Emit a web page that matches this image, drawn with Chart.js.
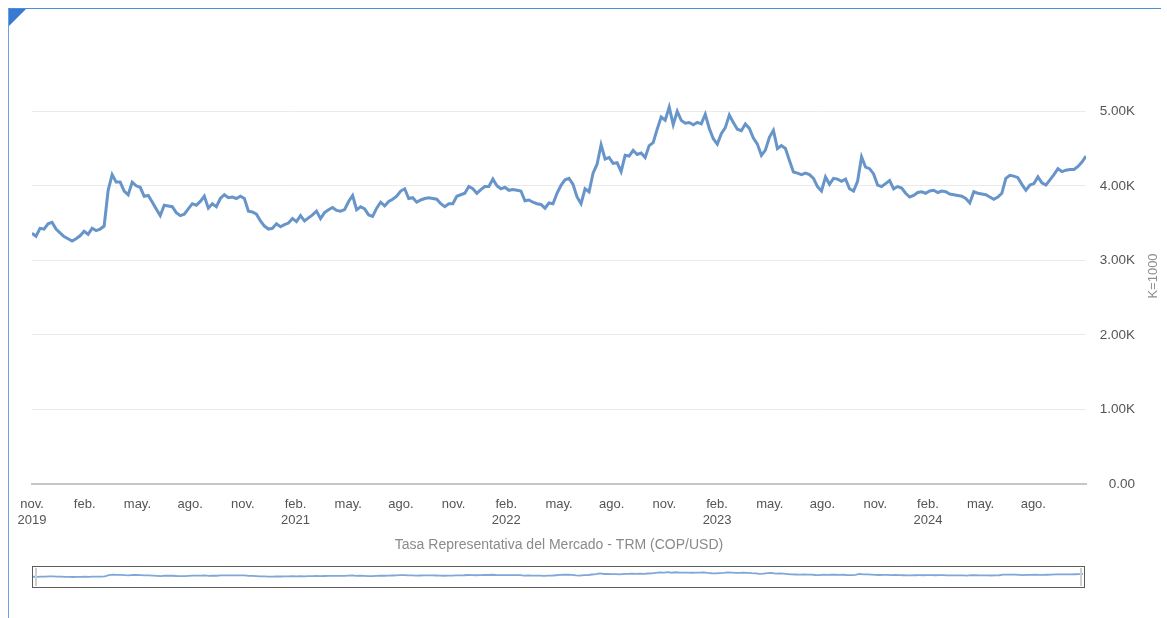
<!DOCTYPE html>
<html>
<head>
<meta charset="utf-8">
<script src="https://cdn.jsdelivr.net/npm/chart.js@4.4.1/dist/chart.umd.min.js"></script>
<style>
html,body{margin:0;padding:0;background:#fff;width:1167px;height:618px;overflow:hidden;font-family:"Liberation Sans",Arial,sans-serif;}
#frame{position:absolute;left:8px;top:8px;width:1153px;height:620px;border-top:1.5px solid #4a8fdc;border-left:1.5px solid #6aa3e3;box-sizing:border-box;}
#corner{position:absolute;left:9px;top:9px;width:0;height:0;border-top:17px solid #3b78d4;border-right:17px solid transparent;}
#main{position:absolute;left:0;top:0;}
#nav{position:absolute;left:32px;top:566px;width:1053px;height:22px;border:1.5px solid #5c5c5c;box-sizing:border-box;}
#navCanvas{position:absolute;left:0;top:0;}
.handle{position:absolute;top:1px;width:2px;height:18px;background:#cfcfcf;}
</style>
</head>
<body>
<div id="frame"></div>
<div id="corner"></div>
<canvas id="main" width="1167" height="618"></canvas>
<div id="nav">
  <canvas id="navCanvas" width="1050" height="19"></canvas>
  <div class="handle" style="left:2px"></div>
  <div class="handle" style="right:2px"></div>
</div>
<script>
// ---- Data: TRM (COP per USD), roughly weekly samples, Nov 2019 - Nov 2024 ----
const trm2019 = [3363,3323,3430,3420,3490,3510,3420,3370,3320];
const trm2020 = [3290,3260,3290,3330,3390,3350,3430,3400,3420,3460,3940,4150,4050,4051,3930,3880,4050,4000,3980,3860,3870,3783,3690,3600,3740,3730,3720,3640,3600,3620,3690,3760,3740,3790,3860,3700,3760,3720,3830,3880,3840,3850,3830,3860,3830,3660,3650,3620,3530,3460,3420,3430,3490];
const trm2021 = [3450,3480,3500,3560,3520,3600,3530,3570,3610,3660,3560,3640,3680,3710,3670,3660,3680,3790,3870,3680,3720,3690,3610,3590,3700,3780,3730,3790,3820,3860,3930,3960,3830,3840,3780,3810,3830,3840,3830,3820,3760,3720,3760,3760,3860,3880,3900,3990,3960,3900,3950,3990];
const trm2022 = [3990,4090,4000,3960,3980,3940,3950,3940,3930,3800,3810,3780,3760,3750,3700,3770,3760,3900,4007,4080,4100,4020,3850,3761,3960,3920,4170,4290,4550,4360,4380,4300,4310,4190,4409,4400,4476,4420,4440,4380,4540,4580,4760,4922,4880,5056,4820,5000,4878,4840,4850,4820,4850];
const trm2023 = [4830,4960,4770,4632,4560,4700,4780,4950,4850,4760,4740,4830,4770,4640,4560,4409,4480,4650,4744,4500,4540,4500,4340,4186,4170,4150,4170,4150,4100,3990,3930,4118,4020,4100,4090,4060,4090,3960,3930,4060,4387,4250,4230,4160,4010,3990,4030,4070,3960,3990,3970,3900,3850];
const trm2024 = [3870,3910,3920,3900,3930,3940,3910,3930,3920,3890,3880,3870,3860,3830,3770,3920,3900,3890,3880,3850,3820,3850,3900,4100,4141,4130,4110,4020,3940,4010,4030,4120,4040,4010,4080,4150,4230,4190,4210,4220,4220,4260,4320,4400];

// months since Nov 2019 covered by the series
const startMonth = 0;
const endMonth = 60;

// x tick labels, one every 3 months starting Nov 2019
const xTickLabels = [
  ['nov.','2019'],'feb.','may.','ago.','nov.',
  ['feb.','2021'],'may.','ago.','nov.',
  ['feb.','2022'],'may.','ago.','nov.',
  ['feb.','2023'],'may.','ago.','nov.',
  ['feb.','2024'],'may.','ago.'
];
const yTickValues = [0,1000,2000,3000,4000,5000];
const xTitle = 'Tasa Representativa del Mercado - TRM (COP/USD)';
const yTitle = 'K=1000';

const allValues = [].concat(trm2019, trm2020, trm2021, trm2022, trm2023, trm2024);
const stepM = (endMonth - startMonth) / (allValues.length - 1);
const points = allValues.map((v, i) => ({x: startMonth + i * stepM, y: v}));

const FAM = '"Liberation Sans", Arial, sans-serif';
const LINE = '#6795c9';

const yTitlePlugin = {
  id: 'yTitle',
  afterDraw(chart) {
    const {ctx, chartArea} = chart;
    ctx.save();
    ctx.translate(1153, (chartArea.top + chartArea.bottom) / 2 - 3);
    ctx.rotate(-Math.PI / 2);
    ctx.font = '13px ' + FAM;
    ctx.fillStyle = '#8f8f8f';
    ctx.textAlign = 'center';
    ctx.textBaseline = 'middle';
    ctx.fillText(yTitle, 0, 0);
    ctx.restore();
  }
};

new Chart(document.getElementById('main'), {
  type: 'line',
  data: {datasets: [{data: points, borderColor: LINE, borderWidth: 3, pointRadius: 0, tension: 0, fill: false}]},
  options: {
    responsive: false,
    animation: false,
    layout: {padding: {left: 32, right: 32, top: 74, bottom: 58}},
    plugins: {legend: {display: false}, tooltip: {enabled: false}},
    scales: {
      x: {
        type: 'linear', min: startMonth, max: endMonth,
        grid: {display: false, drawTicks: false},
        border: {display: true, color: '#c6c6c6', width: 2},
        afterBuildTicks: s => { s.ticks = xTickLabels.map((l, i) => ({value: i * 3})); },
        afterFit: s => { s.height = 76; },
        ticks: {
          autoSkip: false, maxRotation: 0, minRotation: 0, padding: 11.5,
          color: '#555', font: {size: 13, family: FAM, lineHeight: 1.3},
          callback: (v, i) => xTickLabels[i]
        },
        title: {display: true, text: xTitle, color: '#8a8a8a', font: {size: 14, family: FAM}, padding: {top: 4, bottom: 6}}
      },
      y: {
        position: 'right', min: 0, max: 5500,
        afterBuildTicks: s => { s.ticks = yTickValues.map(v => ({value: v})); },
        afterFit: s => { s.width = 49; },
        grid: {color: c => (c.tick && c.tick.value === 0) ? '#c6c6c6' : '#ebebeb', lineWidth: 1, drawTicks: false},
        border: {display: false},
        ticks: {
          padding: 11, crossAlign: 'far', color: '#555', font: {size: 13.5, family: FAM},
          callback: v => v === 0 ? '0.00' : (v / 1000).toFixed(2) + 'K'
        }
      }
    }
  },
  plugins: [yTitlePlugin]
});

new Chart(document.getElementById('navCanvas'), {
  type: 'line',
  data: {datasets: [{data: points, borderColor: '#7fa7d7', borderWidth: 1.8, pointRadius: 0, tension: 0, fill: false}]},
  options: {
    responsive: false,
    animation: false,
    layout: {padding: 0},
    plugins: {legend: {display: false}, tooltip: {enabled: false}},
    scales: {
      x: {type: 'linear', min: startMonth, max: endMonth, display: false},
      y: {min: 0, max: 6900, display: false}
    }
  }
});
</script>
</body>
</html>
